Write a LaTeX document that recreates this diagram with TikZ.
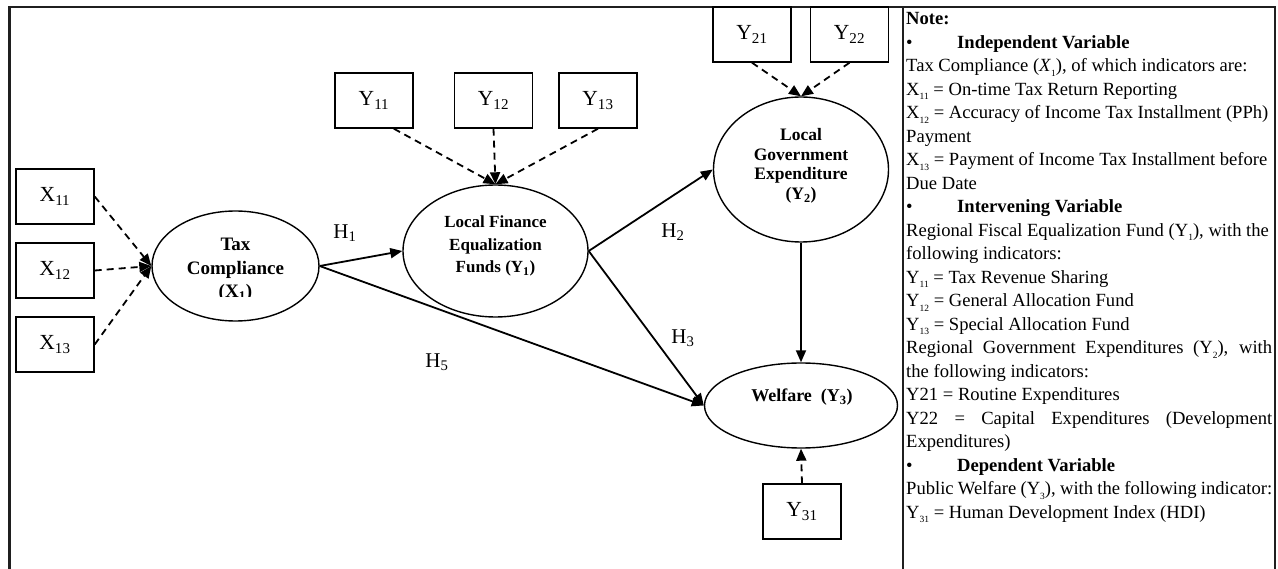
\documentclass[tikz,border=0pt]{standalone}
\usepackage{fontspec}
\setmainfont{Liberation Serif}
\usetikzlibrary{arrows.meta,shapes.geometric,calc}
\newcommand\nsub[1]{\raisebox{-4.5pt}{\fontsize{9.5}{9.5}\selectfont #1}}
\begin{document}
\begin{tikzpicture}[x=1pt,y=-1pt,
  ind/.style={draw, line width=1.4pt, minimum width=78pt, minimum height=55pt, inner sep=0pt, font=\fontsize{21.5}{24}\selectfont},
  lat/.style={draw, ellipse, line width=1.4pt, inner sep=0pt},
  pth/.style={line width=1.8pt, -{Triangle[length=12pt,width=10pt]}},
  dpth/.style={line width=1.8pt, dash pattern=on 7pt off 5pt, -{Triangle[length=12pt,width=10pt]}},
  hlab/.style={font=\fontsize{21}{24}\selectfont, inner sep=0pt},
  frm/.style={line width=2.6pt, draw=black!88, line join=miter}
]
\useasboundingbox (0,0) rectangle (1278,569);
% frame
\draw[frm] (9.7,569) -- (9.7,7) -- (1275,7) -- (1275,569);
\draw[frm] (903,7) -- (903,569);

% indicator boxes
\node[ind] (x11) at (55,196.5) {X\textsubscript{11}};
\node[ind] (x12) at (55,270.5) {X\textsubscript{12}};
\node[ind] (x13) at (55,344.5) {X\textsubscript{13}};
\node[ind] (y11) at (374,100.5) {Y\textsubscript{11}};
\node[ind] (y12) at (493.5,100.5) {Y\textsubscript{12}};
\node[ind] (y13) at (598,100.5) {Y\textsubscript{13}};
\node[ind] (y21) at (752,34.5) {Y\textsubscript{21}};
\node[ind] (y22) at (849.5,34.5) {Y\textsubscript{22}};
\node[ind] (y31) at (802,511.5) {Y\textsubscript{31}};

% latent variables
\node[lat, minimum width=167pt, minimum height=110pt] (tc) at (235.5,266) {};
\node[lat, minimum width=185pt, minimum height=132pt] (lf) at (495.5,251) {};
\node[lat, minimum width=175pt, minimum height=145pt] (ge) at (801,169.5) {};
\node[lat, minimum width=193pt, minimum height=85pt] (wf) at (801,405.5) {};

\begin{scope}
\clip (150,225) rectangle (320,297);
\node[font=\bfseries\fontsize{19}{23.5}\selectfont, align=center] (tct) at (235.5,270) {Tax\\Compliance\\(X\textsubscript{1})};
\end{scope}
\node[font=\bfseries\fontsize{17}{22.5}\selectfont, align=center] (lft) at (495.5,246) {Local Finance\\Equalization\\Funds (Y\textsubscript{1})};
\node[font=\bfseries\fontsize{17.5}{19.5}\selectfont, align=center] (get) at (801,166) {Local\\Government\\Expenditure\\(Y\textsubscript{2})};
\node[font=\bfseries\fontsize{18}{22}\selectfont] (wft) at (802,397) {Welfare\ \ (Y\textsubscript{3})};

% measurement arrows
\draw[dpth] (x11.east) -- (tc.west);
\draw[dpth] (x12.east) -- (tc.west);
\draw[dpth] (x13.east) -- (tc.west);
\draw[dpth] ($(y11.south)!0.5!(y11.south east)$) -- (lf.north);
\draw[dpth] (y12.south) -- (lf.north);
\draw[dpth] (y13.south) -- (lf.north);
\draw[dpth] (y21.south) -- (ge.north);
\draw[dpth] (y22.south) -- (ge.north);
\draw[dpth] (y31.north) -- (wf.south);

% structural paths
\draw[pth] (tc.east) -- (lf.west);
\draw[pth] (tc.east) -- (wf.west);
\draw[pth] (lf.east) -- (ge.west);
\draw[pth] (lf.east) -- (wf.west);
\draw[pth] (ge.south) -- (wf.north);

\node[hlab] (h1) at (345,233) {H\textsubscript{1}};
\node[hlab] (h2) at (673,232) {H\textsubscript{2}};
\node[hlab] (h3) at (683,338) {H\textsubscript{3}};
\node[hlab] (h5) at (437,362) {H\textsubscript{5}};

% note panel
\node[anchor=base west, inner sep=0pt] (note) at (906,25) {\parbox[t]{366pt}{\fontsize{18.6}{23.5}\selectfont\setlength{\parindent}{0pt}%
\textbf{Note:}\\
\makebox[51pt][l]{\textbullet}\textbf{Independent Variable}\\
Tax Compliance (\textit{X}\nsub{1}), of which indicators are:\\
X\nsub{11} = On-time Tax Return Reporting\\
X\nsub{12} = Accuracy of Income Tax Installment (PPh)\\
Payment\\
X\nsub{13} = Payment of Income Tax Installment before\\
Due Date\\
\makebox[51pt][l]{\textbullet}\textbf{Intervening Variable}\\
Regional Fiscal Equalization Fund (Y\nsub{1}), with the\\
following indicators:\\
Y\nsub{11} = Tax Revenue Sharing\\
Y\nsub{12} = General Allocation Fund\\
Y\nsub{13} = Special Allocation Fund\\
Regional Government Expenditures (Y\nsub{2}), with\linebreak
the following indicators:\\
Y21 = Routine Expenditures\\
Y22 = Capital Expenditures (Development\linebreak
Expenditures)\\
\makebox[51pt][l]{\textbullet}\textbf{Dependent Variable}\\
Public Welfare (Y\nsub{3}), with the following indicator:\\
Y\nsub{31} = Human Development Index (HDI)}};
\end{tikzpicture}
\end{document}
